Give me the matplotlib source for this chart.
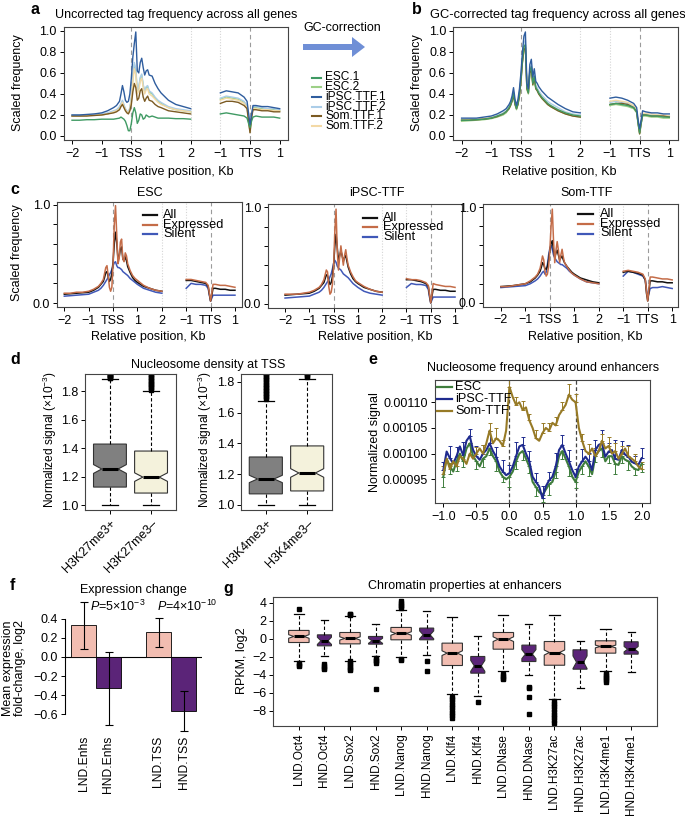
import numpy as np
import matplotlib
matplotlib.use("Agg")
import matplotlib.pyplot as plt
from matplotlib.lines import Line2D
from matplotlib.patches import FancyArrow

plt.rcParams["font.family"] = ["Liberation Sans", "DejaVu Sans"]
plt.rcParams["font.size"] = 9.0
plt.rcParams["mathtext.fontset"] = "custom"
plt.rcParams["mathtext.rm"] = "Liberation Sans"
plt.rcParams["mathtext.it"] = "Liberation Sans:italic"
plt.rcParams["axes.linewidth"] = 0.8
plt.rcParams["xtick.major.size"] = 3
plt.rcParams["ytick.major.size"] = 3
plt.rcParams["xtick.major.width"] = 0.7
plt.rcParams["ytick.major.width"] = 0.7
plt.rcParams["xtick.major.pad"] = 2.5
plt.rcParams["ytick.major.pad"] = 2

# ---------------- profile data (panels a, b, c) ----------------
TSS_POS = [-2.0, -1.75, -1.5, -1.25, -1.0, -0.8, -0.6, -0.5, -0.4, -0.35, -0.3, -0.25, -0.2,
           -0.15, -0.1, -0.05, 0.0, 0.05, 0.1, 0.15, 0.2, 0.25, 0.3, 0.35, 0.4, 0.45, 0.5,
           0.55, 0.6, 0.7, 0.8, 0.9, 1.0, 1.25, 1.5, 1.75, 2.0]
TTS_POS = [-1.0, -0.8, -0.6, -0.4, -0.2, -0.1, -0.05, 0.0, 0.05, 0.1, 0.2, 0.4, 0.6, 0.8, 1.0]
PROFILE_TICKS = [-2, -1, 0, 1, 2, 3, 4, 5]
PROFILE_TICKLABELS = ["\u22122", "\u22121", "TSS", "1", "2", "\u22121", "TTS", "1"]

A_LABELS = ["ESC.1", "ESC.2", "iPSC.TTF.1", "iPSC.TTF.2", "Som.TTF.1", "Som.TTF.2"]
A_COLORS = ["#3f9a63", "#9dd087", "#2f5d9e", "#abcde8", "#7b5a22", "#f3d9a6"]

A_ESC1 = [0.15, 0.15, 0.155, 0.155, 0.16, 0.16, 0.16, 0.165, 0.17, 0.18, 0.17, 0.16, 0.14, 0.10, 0.05,
          0.05, 0.12, 0.22, 0.27, 0.22, 0.12, 0.15, 0.21, 0.20, 0.16, 0.17, 0.20, 0.19, 0.18, 0.19,
          0.18, 0.17, 0.17, 0.17, 0.165, 0.165, 0.16]
A_ESC2 = [0.19, 0.19, 0.195, 0.20, 0.20, 0.21, 0.23, 0.24, 0.27, 0.30, 0.33, 0.29, 0.25, 0.23, 0.22,
          0.26, 0.35, 0.55, 0.68, 0.62, 0.42, 0.45, 0.55, 0.58, 0.48, 0.42, 0.46, 0.47, 0.42, 0.40,
          0.36, 0.33, 0.31, 0.27, 0.25, 0.24, 0.23]
A_IPSC1 = [0.20, 0.20, 0.205, 0.21, 0.22, 0.24, 0.27, 0.29, 0.33, 0.40, 0.48, 0.42, 0.34, 0.32, 0.33,
           0.40, 0.55, 0.75, 0.88, 0.99, 0.62, 0.60, 0.70, 0.74, 0.65, 0.58, 0.62, 0.63, 0.58, 0.57,
           0.50, 0.45, 0.41, 0.34, 0.30, 0.28, 0.26]
A_IPSC2 = [0.20, 0.20, 0.20, 0.205, 0.21, 0.22, 0.24, 0.25, 0.28, 0.31, 0.34, 0.30, 0.26, 0.24, 0.23,
           0.27, 0.37, 0.57, 0.70, 0.64, 0.44, 0.47, 0.56, 0.59, 0.49, 0.43, 0.47, 0.48, 0.43, 0.41,
           0.37, 0.34, 0.32, 0.28, 0.26, 0.25, 0.24]
A_SOM1 = [0.19, 0.19, 0.19, 0.195, 0.20, 0.21, 0.22, 0.23, 0.25, 0.28, 0.30, 0.27, 0.24, 0.22, 0.21,
          0.24, 0.30, 0.42, 0.50, 0.46, 0.34, 0.36, 0.43, 0.45, 0.37, 0.33, 0.36, 0.38, 0.34, 0.33,
          0.30, 0.28, 0.27, 0.24, 0.23, 0.22, 0.21]
A_SOM2 = [0.19, 0.19, 0.195, 0.20, 0.20, 0.21, 0.23, 0.24, 0.26, 0.29, 0.32, 0.28, 0.25, 0.23, 0.22,
          0.25, 0.34, 0.52, 0.64, 0.58, 0.40, 0.43, 0.52, 0.55, 0.46, 0.40, 0.44, 0.45, 0.40, 0.38,
          0.35, 0.32, 0.30, 0.27, 0.25, 0.24, 0.23]
A_ESC1_T = [0.21, 0.22, 0.21, 0.20, 0.19, 0.17, 0.12, 0.08, 0.14, 0.18, 0.19, 0.18, 0.18, 0.18, 0.17]
A_ESC2_T = [0.35, 0.37, 0.36, 0.35, 0.32, 0.28, 0.15, 0.04, 0.18, 0.27, 0.27, 0.26, 0.25, 0.25, 0.24]
A_IPSC1_T = [0.41, 0.43, 0.42, 0.41, 0.37, 0.33, 0.22, 0.11, 0.20, 0.29, 0.29, 0.28, 0.28, 0.27, 0.26]
A_IPSC2_T = [0.36, 0.38, 0.37, 0.36, 0.33, 0.29, 0.16, 0.05, 0.19, 0.28, 0.28, 0.27, 0.26, 0.26, 0.25]
A_SOM1_T = [0.31, 0.33, 0.33, 0.32, 0.29, 0.26, 0.14, 0.03, 0.17, 0.25, 0.25, 0.24, 0.24, 0.23, 0.23]
A_SOM2_T = [0.34, 0.36, 0.35, 0.34, 0.31, 0.27, 0.15, 0.04, 0.18, 0.26, 0.26, 0.25, 0.25, 0.24, 0.24]

B_ESC1 = [0.15, 0.15, 0.155, 0.16, 0.17, 0.19, 0.21, 0.23, 0.27, 0.30, 0.34, 0.41, 0.31, 0.26, 0.31,
          0.40, 0.54, 0.72, 0.85, 0.87, 0.46, 0.41, 0.62, 0.66, 0.50, 0.57, 0.46, 0.44, 0.41, 0.37,
          0.34, 0.31, 0.29, 0.25, 0.22, 0.20, 0.19]
B_ESC2 = [0.14, 0.145, 0.15, 0.155, 0.165, 0.18, 0.20, 0.22, 0.26, 0.29, 0.33, 0.40, 0.30, 0.25, 0.30,
          0.39, 0.52, 0.70, 0.82, 0.85, 0.44, 0.40, 0.60, 0.64, 0.48, 0.55, 0.45, 0.43, 0.40, 0.36,
          0.33, 0.30, 0.28, 0.24, 0.21, 0.19, 0.18]
B_IPSC1 = [0.17, 0.17, 0.17, 0.18, 0.19, 0.21, 0.24, 0.26, 0.30, 0.33, 0.38, 0.46, 0.35, 0.29, 0.35,
           0.45, 0.60, 0.80, 0.95, 0.99, 0.50, 0.45, 0.68, 0.73, 0.56, 0.64, 0.52, 0.50, 0.47, 0.43,
           0.40, 0.37, 0.35, 0.30, 0.26, 0.23, 0.22]
B_IPSC2 = [0.155, 0.16, 0.16, 0.165, 0.175, 0.195, 0.22, 0.24, 0.28, 0.31, 0.35, 0.42, 0.32, 0.27, 0.32,
           0.42, 0.56, 0.75, 0.88, 0.91, 0.47, 0.42, 0.64, 0.68, 0.52, 0.59, 0.48, 0.46, 0.43, 0.39,
           0.36, 0.33, 0.31, 0.27, 0.23, 0.21, 0.20]
B_SOM1 = [0.15, 0.15, 0.155, 0.16, 0.17, 0.185, 0.21, 0.23, 0.26, 0.29, 0.33, 0.39, 0.30, 0.26, 0.30,
          0.38, 0.52, 0.70, 0.82, 0.84, 0.45, 0.41, 0.60, 0.63, 0.49, 0.55, 0.45, 0.43, 0.40, 0.36,
          0.33, 0.30, 0.28, 0.24, 0.21, 0.19, 0.18]
B_SOM2 = [0.15, 0.155, 0.16, 0.165, 0.175, 0.19, 0.21, 0.23, 0.27, 0.30, 0.34, 0.40, 0.31, 0.26, 0.31,
          0.39, 0.53, 0.71, 0.83, 0.86, 0.45, 0.41, 0.61, 0.65, 0.50, 0.56, 0.46, 0.44, 0.41, 0.37,
          0.34, 0.31, 0.29, 0.25, 0.22, 0.20, 0.19]
B_ESC1_T = [0.30, 0.31, 0.30, 0.29, 0.27, 0.23, 0.12, 0.03, 0.12, 0.20, 0.20, 0.19, 0.19, 0.18, 0.18]
B_ESC2_T = [0.29, 0.30, 0.29, 0.28, 0.26, 0.22, 0.11, 0.02, 0.11, 0.19, 0.19, 0.18, 0.18, 0.17, 0.17]
B_IPSC1_T = [0.36, 0.37, 0.36, 0.34, 0.31, 0.27, 0.15, 0.07, 0.15, 0.24, 0.23, 0.22, 0.22, 0.21, 0.21]
B_IPSC2_T = [0.32, 0.33, 0.32, 0.31, 0.28, 0.24, 0.13, 0.04, 0.13, 0.21, 0.21, 0.20, 0.20, 0.19, 0.19]
B_SOM1_T = [0.30, 0.31, 0.31, 0.30, 0.27, 0.23, 0.12, 0.02, 0.12, 0.20, 0.20, 0.19, 0.19, 0.19, 0.18]
B_SOM2_T = [0.33, 0.34, 0.33, 0.32, 0.29, 0.25, 0.13, 0.03, 0.13, 0.22, 0.21, 0.21, 0.20, 0.20, 0.19]

C_LABELS = ["All", "Expressed", "Silent"]
C_COLORS = ["#111111", "#c46c48", "#4058b8"]
C_TITLES = ["ESC", "iPSC-TTF", "Som-TTF"]

C_ESC_ALL = [0.09, 0.095, 0.10, 0.105, 0.11, 0.13, 0.16, 0.19, 0.22, 0.26, 0.31, 0.32, 0.27, 0.22, 0.24,
             0.30, 0.42, 0.60, 0.72, 0.62, 0.45, 0.47, 0.55, 0.57, 0.45, 0.43, 0.47, 0.43, 0.37, 0.31,
             0.26, 0.23, 0.21, 0.17, 0.15, 0.13, 0.12]
C_ESC_EXP = [0.10, 0.10, 0.11, 0.11, 0.12, 0.14, 0.17, 0.20, 0.24, 0.30, 0.36, 0.38, 0.28, 0.16, 0.12,
             0.16, 0.40, 0.80, 0.99, 0.70, 0.40, 0.45, 0.62, 0.65, 0.45, 0.42, 0.51, 0.48, 0.40, 0.33,
             0.28, 0.25, 0.23, 0.18, 0.15, 0.13, 0.12]
C_ESC_SIL = [0.07, 0.075, 0.08, 0.085, 0.09, 0.11, 0.13, 0.15, 0.18, 0.20, 0.22, 0.24, 0.26, 0.29, 0.31,
             0.34, 0.38, 0.41, 0.42, 0.38, 0.36, 0.36, 0.35, 0.34, 0.32, 0.31, 0.30, 0.29, 0.28, 0.25,
             0.23, 0.21, 0.19, 0.15, 0.13, 0.11, 0.10]
C_IPSC_ALL = [0.09, 0.095, 0.10, 0.105, 0.11, 0.13, 0.16, 0.19, 0.22, 0.26, 0.30, 0.29, 0.24, 0.20, 0.22,
              0.28, 0.40, 0.60, 0.72, 0.58, 0.45, 0.50, 0.55, 0.50, 0.44, 0.48, 0.50, 0.44, 0.38, 0.31,
              0.26, 0.23, 0.21, 0.17, 0.15, 0.13, 0.12]
C_IPSC_EXP = [0.10, 0.10, 0.10, 0.11, 0.12, 0.14, 0.17, 0.20, 0.25, 0.30, 0.35, 0.33, 0.18, 0.10, 0.12,
              0.20, 0.38, 0.75, 0.98, 0.55, 0.35, 0.48, 0.60, 0.50, 0.40, 0.50, 0.56, 0.47, 0.40, 0.33,
              0.28, 0.24, 0.22, 0.18, 0.15, 0.13, 0.12]
C_IPSC_SIL = [0.06, 0.065, 0.07, 0.075, 0.08, 0.10, 0.12, 0.14, 0.17, 0.19, 0.21, 0.23, 0.25, 0.28, 0.31,
              0.36, 0.42, 0.45, 0.43, 0.39, 0.37, 0.36, 0.35, 0.33, 0.31, 0.30, 0.29, 0.28, 0.27, 0.24,
              0.21, 0.19, 0.17, 0.13, 0.11, 0.10, 0.09]
C_SOM_ALL = [0.17, 0.175, 0.18, 0.19, 0.20, 0.22, 0.26, 0.29, 0.33, 0.37, 0.42, 0.40, 0.36, 0.35, 0.38,
             0.45, 0.55, 0.62, 0.65, 0.55, 0.48, 0.52, 0.55, 0.50, 0.45, 0.47, 0.49, 0.45, 0.42, 0.38,
             0.35, 0.32, 0.30, 0.26, 0.24, 0.22, 0.21]
C_SOM_EXP = [0.17, 0.17, 0.18, 0.19, 0.20, 0.23, 0.27, 0.30, 0.36, 0.42, 0.49, 0.45, 0.33, 0.28, 0.30,
             0.38, 0.55, 0.80, 0.98, 0.65, 0.42, 0.55, 0.64, 0.55, 0.42, 0.50, 0.56, 0.48, 0.42, 0.38,
             0.34, 0.31, 0.29, 0.25, 0.22, 0.21, 0.20]
C_SOM_SIL = [0.16, 0.165, 0.17, 0.175, 0.18, 0.20, 0.23, 0.25, 0.28, 0.30, 0.32, 0.33, 0.30, 0.32, 0.40,
             0.50, 0.57, 0.60, 0.56, 0.50, 0.47, 0.45, 0.43, 0.42, 0.41, 0.40, 0.40, 0.39, 0.38, 0.36,
             0.33, 0.31, 0.29, 0.25, 0.22, 0.21, 0.20]
C_ESC_ALL_T = [0.23, 0.23, 0.22, 0.21, 0.20, 0.17, 0.09, 0.02, 0.08, 0.15, 0.15, 0.14, 0.14, 0.13, 0.13]
C_ESC_EXP_T = [0.24, 0.24, 0.23, 0.22, 0.21, 0.18, 0.10, 0.02, 0.10, 0.19, 0.19, 0.18, 0.18, 0.17, 0.16]
C_ESC_SIL_T = [0.15, 0.20, 0.19, 0.19, 0.18, 0.15, 0.08, 0.02, 0.05, 0.08, 0.08, 0.08, 0.08, 0.08, 0.08]
C_IPSC_ALL_T = [0.25, 0.25, 0.24, 0.23, 0.21, 0.18, 0.09, 0.01, 0.08, 0.15, 0.15, 0.14, 0.14, 0.13, 0.13]
C_IPSC_EXP_T = [0.26, 0.25, 0.25, 0.24, 0.22, 0.19, 0.10, 0.01, 0.10, 0.21, 0.20, 0.19, 0.18, 0.18, 0.17]
C_IPSC_SIL_T = [0.17, 0.21, 0.20, 0.20, 0.19, 0.15, 0.07, 0.01, 0.04, 0.07, 0.07, 0.07, 0.07, 0.07, 0.07]
C_SOM_ALL_T = [0.32, 0.33, 0.32, 0.31, 0.29, 0.24, 0.10, 0.02, 0.12, 0.23, 0.23, 0.22, 0.22, 0.21, 0.21]
C_SOM_EXP_T = [0.33, 0.34, 0.33, 0.32, 0.30, 0.25, 0.12, 0.02, 0.15, 0.27, 0.27, 0.26, 0.25, 0.25, 0.24]
C_SOM_SIL_T = [0.28, 0.33, 0.32, 0.30, 0.28, 0.24, 0.14, 0.06, 0.10, 0.15, 0.16, 0.16, 0.17, 0.16, 0.15]

# ---------------- panel d: nucleosome density boxplots ----------------
D1_LABELS = ["H3K27me3+", "H3K27me3\u2013"]
D2_LABELS = ["H3K4me3+", "H3K4me3\u2013"]
D_COLORS = ["#808080", "#f4f2dc"]
D1_WHISLO = [1.0, 1.0]
D1_Q1 = [1.126, 1.084]
D1_MED = [1.253, 1.196]
D1_Q3 = [1.428, 1.379]
D1_WHISHI = [1.884, 1.80]
D1_CILO = [1.222, 1.166]
D1_CIHI = [1.284, 1.226]
D1_FLIERS = [[1.89, 1.895, 1.90, 1.905, 1.91, 1.915, 1.92, 1.925],
             [1.81, 1.82, 1.83, 1.84, 1.85, 1.86, 1.87, 1.88, 1.89, 1.90, 1.91, 1.92]]
D2_WHISLO = [1.0, 1.0]
D2_Q1 = [1.072, 1.091]
D2_MED = [1.169, 1.208]
D2_Q3 = [1.312, 1.384]
D2_WHISHI = [1.676, 1.82]
D2_CILO = [1.145, 1.180]
D2_CIHI = [1.193, 1.236]
D2_FLIERS = [[1.69, 1.70, 1.71, 1.72, 1.73, 1.74, 1.75, 1.76, 1.77, 1.78, 1.79, 1.80, 1.81, 1.82, 1.83, 1.84, 1.85, 1.86],
             [1.83, 1.84, 1.85, 1.86]]

# ---------------- panel e: nucleosome frequency around enhancers ----------------
E_LABELS = ["ESC", "iPSC-TTF", "Som-TTF"]
E_COLORS = ["#3f7d3c", "#1f2b8e", "#977a26"]
E_X = np.linspace(-1.0, 2.0, 61)
E_ESC = [0.000955, 0.000990, 0.000975, 0.000965, 0.000985, 0.001000, 0.000985, 0.001010, 0.001020, 0.000995,
         0.000985, 0.000975, 0.000990, 0.000995, 0.001010, 0.000995, 0.000985, 0.000965, 0.000955, 0.000950,
         0.000955, 0.000965, 0.000985, 0.001000, 0.001005, 0.000990, 0.000975, 0.000945, 0.000935, 0.000925,
         0.000920, 0.000930, 0.000940, 0.000945, 0.000965, 0.000995, 0.001005, 0.000990, 0.000975, 0.000955,
         0.000945, 0.000965, 0.000975, 0.000985, 0.000975, 0.000960, 0.000995, 0.001005, 0.001010, 0.000985,
         0.000995, 0.000995, 0.000980, 0.000978, 0.000995, 0.000988, 0.000985, 0.000975, 0.000970, 0.000968,
         0.000980]
E_IPSC = [0.000968, 0.001004, 0.000991, 0.000981, 0.000995, 0.001014, 0.000997, 0.001025, 0.001034, 0.001007,
          0.000995, 0.000988, 0.001000, 0.001007, 0.001020, 0.001005, 0.000994, 0.000975, 0.000965, 0.000958,
          0.000962, 0.000975, 0.000995, 0.001014, 0.001017, 0.001000, 0.000985, 0.000955, 0.000945, 0.000936,
          0.000913, 0.000936, 0.000948, 0.000955, 0.000975, 0.001007, 0.001017, 0.001000, 0.000985, 0.000968,
          0.000955, 0.000975, 0.000985, 0.000994, 0.000985, 0.000968, 0.001007, 0.001017, 0.001020, 0.000994,
          0.001004, 0.001007, 0.000990, 0.000988, 0.001007, 0.000998, 0.000994, 0.000984, 0.000981, 0.000978,
          0.000991]
E_SOM = [0.000960, 0.000990, 0.000970, 0.000985, 0.000975, 0.000995, 0.000990, 0.000980, 0.001000, 0.000990,
         0.001000, 0.001010, 0.001000, 0.001020, 0.001045, 0.001020, 0.001030, 0.001025, 0.001015, 0.001045,
         0.001130, 0.001110, 0.001095, 0.001100, 0.001085, 0.001090, 0.001065, 0.001050, 0.001030, 0.001025,
         0.001040, 0.001050, 0.001045, 0.001060, 0.001055, 0.001075, 0.001085, 0.001095, 0.001115, 0.001105,
         0.001100, 0.001050, 0.001025, 0.001005, 0.001000, 0.001010, 0.000995, 0.001005, 0.001025, 0.001010,
         0.001015, 0.001000, 0.001005, 0.000990, 0.001000, 0.001010, 0.000995, 0.000990, 0.000985, 0.000975,
         0.000970]
E_ERR_ESC = [2.0e-5, 1.5e-5, 1.8e-5, 1.2e-5, 2.2e-5, 1.4e-5, 1.6e-5, 1.3e-5, 1.9e-5, 1.1e-5, 2.1e-5,
             1.5e-5, 1.7e-5, 1.2e-5, 1.8e-5, 1.4e-5, 2.0e-5, 1.3e-5, 1.6e-5, 1.9e-5, 1.2e-5, 1.5e-5,
             1.8e-5, 1.1e-5, 1.7e-5, 1.4e-5, 2.0e-5, 1.3e-5, 1.6e-5, 1.2e-5, 1.5e-5]
E_ERR_IPSC = [1.5e-5, 2.4e-5, 1.8e-5, 2.6e-5, 1.4e-5, 2.0e-5, 1.7e-5, 2.5e-5, 1.9e-5, 2.2e-5, 1.6e-5,
              2.8e-5, 1.5e-5, 2.1e-5, 1.8e-5, 2.3e-5, 1.6e-5, 2.7e-5, 1.9e-5, 2.2e-5, 1.5e-5, 2.4e-5,
              1.7e-5, 2.0e-5, 2.6e-5, 1.6e-5, 3.6e-5, 1.8e-5, 2.2e-5, 1.5e-5, 2.0e-5]
E_ERR_SOM = [1.5e-5, 1.2e-5, 1.8e-5, 1.4e-5, 2.0e-5, 1.3e-5, 1.7e-5, 1.5e-5, 1.9e-5, 1.2e-5, 2.2e-5,
             1.5e-5, 1.8e-5, 1.3e-5, 1.6e-5, 1.9e-5, 1.4e-5, 1.7e-5, 1.5e-5, 2.0e-5, 1.6e-5, 1.4e-5,
             1.8e-5, 1.5e-5, 1.3e-5, 1.7e-5, 1.6e-5, 1.4e-5, 1.9e-5, 1.5e-5, 1.3e-5]

# ---------------- panel f: expression change ----------------
F_LABELS = ["LND.Enhs", "HND.Enhs", "LND.TSS", "HND.TSS"]
F_POS = [0.5, 1.5, 3.5, 4.5]
F_VALUES = [0.33, -0.33, 0.26, -0.57]
F_ERR_LO = [0.08, -0.71, 0.10, -0.77]
F_ERR_HI = [0.57, 0.05, 0.41, -0.36]
LND_COLOR = "#f2bdb1"
HND_COLOR = "#5b2478"
F_COLORS = [LND_COLOR, HND_COLOR, LND_COLOR, HND_COLOR]

# ---------------- panel g: chromatin properties at enhancers ----------------
G_LABELS = ["LND.Oct4", "HND.Oct4", "LND.Sox2", "HND.Sox2", "LND.Nanog", "HND.Nanog",
            "LND.Klf4", "HND.Klf4", "LND.DNase", "HND.DNase", "LND.H3K27ac", "HND.H3K27ac",
            "LND.H3K4me1", "HND.H3K4me1"]
G_WHISLO = [-2.41, -1.96, -2.41, -1.96, -2.07, -1.81, -6.11, -6.33, -3.56, -4.0, -6.70, -5.41, -3.56, -3.63]
G_Q1 = [-0.41, -0.78, -0.56, -0.59, -0.11, -0.11, -2.96, -3.81, -1.15, -2.52, -2.93, -3.37, -1.59, -1.70]
G_MED = [0.26, -0.22, 0.04, -0.22, 0.59, 0.44, -1.59, -3.0, -0.04, -1.70, -1.52, -2.59, -0.85, -1.15]
G_Q3 = [0.93, 0.44, 0.70, 0.26, 1.26, 1.19, -0.48, -1.96, 0.70, -0.70, -0.30, -1.22, -0.22, -0.33]
G_WHISHI = [2.78, 2.11, 2.48, 1.63, 3.22, 3.04, 2.41, 0.26, 2.59, 1.63, 2.67, -0.19, 1.04, 0.70]
G_CILO = [0.06, -0.62, -0.14, -0.50, 0.40, 0.0, -1.85, -3.6, -0.30, -2.2, -1.80, -3.3, -1.0, -1.45]
G_CIHI = [0.46, 0.18, 0.22, 0.06, 0.78, 0.88, -1.33, -2.4, 0.22, -1.2, -1.24, -1.9, -0.7, -0.85]
G_FLIERS = [[3.3, -2.7, -2.85, -3.0],
            [-2.8, -3.0, -3.2, -3.4],
            [2.6, 2.7, 2.8, -2.5, -2.7, -2.9, -3.1, -3.3, -3.5],
            [-2.1, -2.3, -2.5, -2.7, -5.6],
            [3.4, 3.6, 3.8, 4.0, 4.2, -2.2, -2.3],
            [-2.5, -3.6],
            [-6.4, -6.7, -7.0, -7.3, -7.6, -7.9, -8.2, -8.5, -8.8],
            [-7.0],
            [-3.9, -4.1, -4.3, -4.5],
            [-5.3, -5.5, -6.4, -8.3],
            [-6.9, -7.2, -7.5, -7.8, -8.1, -8.4, -8.7, -9.0, -9.3],
            [],
            [-3.8, -4.0, -4.2, -4.4, -4.6, -4.8],
            []]
G_COLORS = [LND_COLOR, HND_COLOR] * 7
G_WIDTHS = [0.8, 0.55] * 7

# ---------------- layout helpers (pixel coordinates, origin top-left) ----------------
W, H = 685, 819
fig = plt.figure(figsize=(W / 100, H / 100), dpi=100)


def px_axes(l, t, r, b):
    return fig.add_axes([l / W, 1 - b / H, (r - l) / W, (b - t) / H])


def px_text(x, y, s, **kw):
    kw.setdefault("ha", "center")
    kw.setdefault("va", "center")
    return fig.text(x / W, 1 - y / H, s, **kw)


def px_line(x0, x1, y, color, lw):
    fig.add_artist(Line2D([x0 / W, x1 / W], [1 - y / H, 1 - y / H], color=color, lw=lw,
                          transform=fig.transFigure))


def panel_label(x, y, s):
    px_text(x, y, s, fontsize=11.5, fontweight="bold")


def draw_profile(ax, tss_series, tts_series, colors, xlim, ylim, lw=1.0):
    for xv in (0, 4):
        ax.axvline(xv, color="#9b9b9b", lw=0.8, ls=(0, (4, 3)), zorder=1)
    for xv in (2, 3):
        ax.axvline(xv, color="#d5d5d5", lw=0.8, ls=(0, (1, 1.5)), zorder=1)
    tts_x = [p + 4 for p in TTS_POS]
    for tss, tts, c in zip(tss_series, tts_series, colors):
        ax.plot(TSS_POS, tss, color=c, lw=lw, zorder=2)
        ax.plot(tts_x, tts, color=c, lw=lw, zorder=2)
    ax.set_xlim(*xlim)
    ax.set_ylim(*ylim)
    ax.set_xticks(PROFILE_TICKS)
    ax.set_xticklabels(PROFILE_TICKLABELS)
    for s in ax.spines.values():
        s.set_color("#444444")


def make_stats(lo, q1, med, q3, hi, cilo, cihi, fliers):
    return [dict(whislo=a, q1=b, med=c, q3=d, whishi=e, cilo=f, cihi=g, fliers=h)
            for a, b, c, d, e, f, g, h in zip(lo, q1, med, q3, hi, cilo, cihi, fliers)]


def draw_boxes(ax, stats, positions, widths, colors, flier_ms=2.2):
    res = ax.bxp(stats, positions=positions, widths=widths, shownotches=True, patch_artist=True,
                 boxprops=dict(edgecolor="#333333", linewidth=0.8),
                 medianprops=dict(color="black", linewidth=2.2, solid_capstyle="butt"),
                 whiskerprops=dict(color="black", linewidth=0.8, linestyle=(0, (3, 2))),
                 capprops=dict(color="black", linewidth=0.9),
                 flierprops=dict(marker="s", markersize=flier_ms, markerfacecolor="black",
                                 markeredgecolor="black", linestyle="none"))
    for patch, c in zip(res["boxes"], colors):
        patch.set_facecolor(c)


# ---------------- panel a ----------------
ax_a = px_axes(63.7, 26.7, 288, 140.2)
draw_profile(ax_a, [A_ESC2, A_IPSC2, A_SOM2, A_SOM1, A_ESC1, A_IPSC1],
             [A_ESC2_T, A_IPSC2_T, A_SOM2_T, A_SOM1_T, A_ESC1_T, A_IPSC1_T],
             [A_COLORS[1], A_COLORS[3], A_COLORS[5], A_COLORS[4], A_COLORS[0], A_COLORS[2]],
             (-2.28, 5.28), (-0.04, 1.04))
ax_a.set_yticks([0, 0.2, 0.4, 0.6, 0.8, 1.0])
ax_a.set_yticklabels(["0.0", "0.2", "0.4", "0.6", "0.8", "1.0"])
panel_label(35, 10, "a")
px_text(176, 15, "Uncorrected tag frequency across all genes")
px_text(18, 83, "Scaled frequency", rotation=90)
px_text(176, 172, "Relative position, Kb")

# GC-correction arrow and legend
px_text(303, 28, "GC-correction", ha="left")
fig.add_artist(FancyArrow(3.03, (H - 47) / 100, 0.62, 0, width=0.06, head_width=0.2, head_length=0.13,
                          length_includes_head=True, color="#6f8fd6", lw=0,
                          transform=fig.dpi_scale_trans))
for i, (lab, c) in enumerate(zip(A_LABELS, A_COLORS)):
    y = 77.5 + 9.7 * i
    px_line(312, 321, y, c, 1.5)
    px_text(325, y, lab, ha="left", fontsize=8.6)

# ---------------- panel b ----------------
ax_b = px_axes(453.3, 26.7, 677.6, 140.2)
draw_profile(ax_b, [B_ESC2, B_IPSC2, B_SOM2, B_SOM1, B_ESC1, B_IPSC1],
             [B_ESC2_T, B_IPSC2_T, B_SOM2_T, B_SOM1_T, B_ESC1_T, B_IPSC1_T],
             [A_COLORS[1], A_COLORS[3], A_COLORS[5], A_COLORS[4], A_COLORS[0], A_COLORS[2]],
             (-2.28, 5.28), (-0.04, 1.04))
ax_b.set_yticks([0, 0.2, 0.4, 0.6, 0.8, 1.0])
ax_b.set_yticklabels(["0.0", "0.2", "0.4", "0.6", "0.8", "1.0"])
panel_label(417, 10, "b")
px_text(558, 15, "GC-corrected tag frequency across all genes", fontsize=9.3)
px_text(417, 83, "Scaled frequency", rotation=90)
px_text(559, 172, "Relative position, Kb")

# ---------------- panel c ----------------
c_boxes = [(57, 201.7, 241.8, 307), (268.3, 204.3, 462.3, 307.7), (483.3, 204.3, 678.3, 306.7)]
c_xlims = [(-2.30, 5.28), (-2.69, 5.30), (-2.72, 5.25)]
c_tss = [[C_ESC_SIL, C_ESC_ALL, C_ESC_EXP], [C_IPSC_SIL, C_IPSC_ALL, C_IPSC_EXP],
         [C_SOM_SIL, C_SOM_ALL, C_SOM_EXP]]
c_tts = [[C_ESC_SIL_T, C_ESC_ALL_T, C_ESC_EXP_T], [C_IPSC_SIL_T, C_IPSC_ALL_T, C_IPSC_EXP_T],
         [C_SOM_SIL_T, C_SOM_ALL_T, C_SOM_EXP_T]]
c_title_x = [150, 377, 587]
c_leg = [(143, 157, 163, 215), (363, 377, 383, 217.7), (578, 593, 600, 214.3)]
for k in range(3):
    ax = px_axes(*c_boxes[k])
    draw_profile(ax, c_tss[k], c_tts[k], [C_COLORS[2], C_COLORS[0], C_COLORS[1]],
                 c_xlims[k], (-0.04, 1.03), lw=1.1)
    ax.set_yticks([0, 0.2, 0.4, 0.6, 0.8, 1.0])
    ax.set_yticklabels(["0.0", "", "", "", "", "1.0"])
    px_text(c_title_x[k], 193, C_TITLES[k])
    px_text(c_title_x[k] - 2, 337, "Relative position, Kb")
    x0, x1, xt, y0 = c_leg[k]
    for i, (lab, c) in enumerate(zip(C_LABELS, C_COLORS)):
        px_line(x0, x1, y0 + 9.6 * i, c, 1.6)
        px_text(xt, y0 + 9.6 * i, lab, ha="left", fontsize=9.2)
panel_label(15, 190, "c")
px_text(17, 253, "Scaled frequency", rotation=90)

# ---------------- panel d ----------------
ax_d1 = px_axes(85.3, 374, 175.7, 510)
draw_boxes(ax_d1, make_stats(D1_WHISLO, D1_Q1, D1_MED, D1_Q3, D1_WHISHI, D1_CILO, D1_CIHI, D1_FLIERS),
           [1, 2], [0.8, 0.8], D_COLORS, flier_ms=2.6)
ax_d1.set_xlim(0.4, 2.6)
ax_d1.set_ylim(0.965, 1.92)
ax_d2 = px_axes(241, 374, 332, 510)
draw_boxes(ax_d2, make_stats(D2_WHISLO, D2_Q1, D2_MED, D2_Q3, D2_WHISHI, D2_CILO, D2_CIHI, D2_FLIERS),
           [1, 2], [0.8, 0.8], D_COLORS, flier_ms=2.6)
ax_d2.set_xlim(0.4, 2.6)
ax_d2.set_ylim(0.967, 1.852)
for ax, labs in ((ax_d1, D1_LABELS), (ax_d2, D2_LABELS)):
    ax.set_yticks([1.0, 1.2, 1.4, 1.6, 1.8])
    ax.set_yticklabels(["1.0", "1.2", "1.4", "1.6", "1.8"])
    ax.set_xticks([1, 2])
    ax.set_xticklabels(labs, rotation=45, ha="right", rotation_mode="anchor")
    for s in ax.spines.values():
        s.set_color("#444444")
panel_label(15, 360, "d")
px_text(208, 365, "Nucleosome density at TSS")
px_text(50, 440, "Normalized signal (\u00d710$^{-3}$)", rotation=90, fontsize=8.6)
px_text(205, 440, "Normalized signal (\u00d710$^{-3}$)", rotation=90, fontsize=8.6)

# ---------------- panel e ----------------
ax_e = px_axes(435, 380, 650, 503)
ax_e.axvline(0, color="#444444", lw=0.9, ls=(0, (3, 2)), zorder=1)
ax_e.axvline(1, color="#444444", lw=0.9, ls=(0, (3, 2)), zorder=1)
err_x = E_X[::2]
for vals, err, c, down in ((E_ESC, E_ERR_ESC, E_COLORS[0], True),
                           (E_IPSC, E_ERR_IPSC, E_COLORS[1], False),
                           (E_SOM, E_ERR_SOM, E_COLORS[2], False)):
    zeros = [0.0] * len(err)
    yerr = [err, zeros] if down else [zeros, err]
    ax_e.errorbar(err_x, vals[::2], yerr=yerr, fmt="none", ecolor=c, elinewidth=0.7, capsize=1.3,
                  capthick=0.7, zorder=2)
    ax_e.plot(E_X, vals, color=c, lw=1.5, zorder=3)
ax_e.set_xlim(-1.126, 2.126)
ax_e.set_ylim(0.0009038, 0.0011434)
ax_e.set_xticks([-1.0, -0.5, 0.0, 0.5, 1.0, 1.5, 2.0])
ax_e.set_xticklabels(["\u22121.0", "\u22120.5", "0.0", "0.5", "1.0", "1.5", "2.0"])
ax_e.set_yticks([0.00095, 0.00100, 0.00105, 0.00110])
ax_e.set_yticklabels(["0.00095", "0.00100", "0.00105", "0.00110"])
for s in ax_e.spines.values():
    s.set_color("#444444")
for i, (lab, c) in enumerate(zip(E_LABELS, E_COLORS)):
    px_line(437, 452, 386.7 + 12.2 * i, c, 1.6)
    px_text(455, 386.7 + 12.2 * i, lab, ha="left", fontsize=9.2)
panel_label(373, 360, "e")
px_text(543, 368, "Nucleosome frequency around enhancers")
px_text(375, 442, "Normalized signal", rotation=90)
px_text(543, 533, "Scaled region")

# ---------------- panel f ----------------
ax_f = px_axes(65, 600, 202, 733)
ax_f.bar(F_POS, F_VALUES, width=1.0, color=F_COLORS, edgecolor="black", linewidth=0.6, zorder=2)
yerr_f = [[v - lo for v, lo in zip(F_VALUES, F_ERR_LO)], [hi - v for v, hi in zip(F_VALUES, F_ERR_HI)]]
ax_f.errorbar(F_POS, F_VALUES, yerr=yerr_f, fmt="none", ecolor="black", elinewidth=0.8, capsize=3,
              capthick=0.8, zorder=3)
ax_f.axhline(0, color="black", lw=0.8, zorder=1)
ax_f.set_xlim(-0.24, 5.24)
ax_f.set_ylim(-0.796, 0.596)
ax_f.set_yticks([-0.6, -0.4, -0.2, 0.0, 0.2, 0.4])
ax_f.set_yticklabels(["\u22120.6", "\u22120.4", "\u22120.2", "0.0", "0.2", "0.4"])
ax_f.set_xticks(F_POS)
ax_f.set_xticklabels(F_LABELS, rotation=90, va="top", fontsize=8.7)
ax_f.tick_params(axis="x", length=0, pad=2)
for side in ("top", "right", "bottom"):
    ax_f.spines[side].set_visible(False)
ax_f.spines["left"].set_bounds(-0.6, 0.4)
panel_label(12, 586, "f")
px_text(133, 590, "Expression change")
px_text(90, 606, "$P$=5\u00d710$^{-3}$", ha="left")
px_text(157, 606, "$P$=4\u00d710$^{-10}$", ha="left")
px_text(14, 668, "Mean expression\nfold-change, log2", rotation=90, linespacing=1.0)

# ---------------- panel g ----------------
ax_g = px_axes(273.3, 596.7, 656.7, 726)
g_pos = list(range(1, len(G_LABELS) + 1))
draw_boxes(ax_g, make_stats(G_WHISLO, G_Q1, G_MED, G_Q3, G_WHISHI, G_CILO, G_CIHI, G_FLIERS),
           g_pos, G_WIDTHS, G_COLORS, flier_ms=2.4)
ax_g.set_xlim(0, 15)
ax_g.set_ylim(-9.67, 4.67)
ax_g.set_yticks([-8, -6, -4, -2, 0, 2, 4])
ax_g.set_yticklabels(["\u22128", "\u22126", "\u22124", "\u22122", "0", "2", "4"])
ax_g.set_xticks(g_pos)
ax_g.set_xticklabels(G_LABELS, rotation=90, va="top", fontsize=8.5)
for s in ax_g.spines.values():
    s.set_color("#444444")
panel_label(228, 589, "g")
px_text(465, 586, "Chromatin properties at enhancers")
px_text(242, 661, "RPKM, log2", rotation=90)

fig.savefig("out.png", dpi=100)
